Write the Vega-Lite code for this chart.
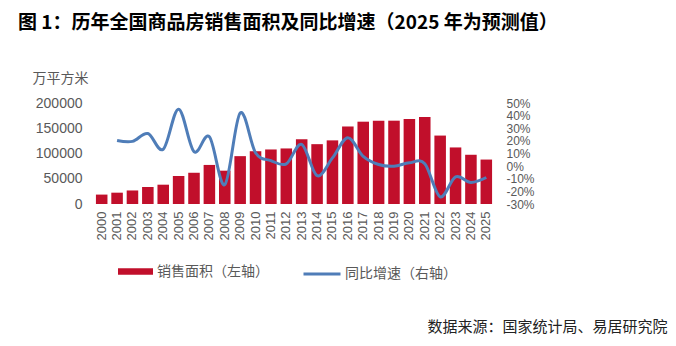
{
  "$schema": "https://vega.github.io/schema/vega-lite/v6.json",
  "width": 400,
  "height": 101,
  "autosize": {"type": "none"},
  "padding": {"left": 94, "top": 103, "right": 182, "bottom": 142},
  "background": "white",
  "config": {
    "view": {"stroke": null},
    "font": "Liberation Sans, Noto Sans CJK SC",
    "legend": {"padding": 0}
  },
  "title": {
    "text": "图 1：历年全国商品房销售面积及同比增速（2025 年为预测值）",
    "anchor": "start",
    "frame": "group",
    "dx": -76,
    "dy": -38,
    "offset": 0,
    "font": "Noto Sans CJK SC",
    "fontSize": 19,
    "fontWeight": "bold",
    "color": "#000000"
  },
  "data": {
    "values": [
      {"year": "2000", "area": 18637, "sArea": "销售面积（左轴）", "sGrowth": "同比增速（右轴）"},
      {"year": "2001", "area": 22412, "growth": 20.3, "sArea": "销售面积（左轴）", "sGrowth": "同比增速（右轴）"},
      {"year": "2002", "area": 26808, "growth": 19.6, "sArea": "销售面积（左轴）", "sGrowth": "同比增速（右轴）"},
      {"year": "2003", "area": 33718, "growth": 25.8, "sArea": "销售面积（左轴）", "sGrowth": "同比增速（右轴）"},
      {"year": "2004", "area": 38232, "growth": 13.4, "sArea": "销售面积（左轴）", "sGrowth": "同比增速（右轴）"},
      {"year": "2005", "area": 55486, "growth": 45.1, "sArea": "销售面积（左轴）", "sGrowth": "同比增速（右轴）"},
      {"year": "2006", "area": 61857, "growth": 11.5, "sArea": "销售面积（左轴）", "sGrowth": "同比增速（右轴）"},
      {"year": "2007", "area": 77355, "growth": 23.2, "sArea": "销售面积（左轴）", "sGrowth": "同比增速（右轴）"},
      {"year": "2008", "area": 65970, "growth": -14.7, "sArea": "销售面积（左轴）", "sGrowth": "同比增速（右轴）"},
      {"year": "2009", "area": 94755, "growth": 42.1, "sArea": "销售面积（左轴）", "sGrowth": "同比增速（右轴）"},
      {"year": "2010", "area": 104500, "growth": 10.6, "sArea": "销售面积（左轴）", "sGrowth": "同比增速（右轴）"},
      {"year": "2011", "area": 108000, "growth": 4.4, "sArea": "销售面积（左轴）", "sGrowth": "同比增速（右轴）"},
      {"year": "2012", "area": 110000, "growth": 1.8, "sArea": "销售面积（左轴）", "sGrowth": "同比增速（右轴）"},
      {"year": "2013", "area": 128000, "growth": 17.3, "sArea": "销售面积（左轴）", "sGrowth": "同比增速（右轴）"},
      {"year": "2014", "area": 118500, "growth": -7.6, "sArea": "销售面积（左轴）", "sGrowth": "同比增速（右轴）"},
      {"year": "2015", "area": 126000, "growth": 6.5, "sArea": "销售面积（左轴）", "sGrowth": "同比增速（右轴）"},
      {"year": "2016", "area": 153500, "growth": 22.5, "sArea": "销售面积（左轴）", "sGrowth": "同比增速（右轴）"},
      {"year": "2017", "area": 163000, "growth": 7.7, "sArea": "销售面积（左轴）", "sGrowth": "同比增速（右轴）"},
      {"year": "2018", "area": 165000, "growth": 1.3, "sArea": "销售面积（左轴）", "sGrowth": "同比增速（右轴）"},
      {"year": "2019", "area": 165000, "growth": -0.1, "sArea": "销售面积（左轴）", "sGrowth": "同比增速（右轴）"},
      {"year": "2020", "area": 168500, "growth": 2.6, "sArea": "销售面积（左轴）", "sGrowth": "同比增速（右轴）"},
      {"year": "2021", "area": 172500, "growth": 1.9, "sArea": "销售面积（左轴）", "sGrowth": "同比增速（右轴）"},
      {"year": "2022", "area": 135500, "growth": -24.3, "sArea": "销售面积（左轴）", "sGrowth": "同比增速（右轴）"},
      {"year": "2023", "area": 112000, "growth": -8.5, "sArea": "销售面积（左轴）", "sGrowth": "同比增速（右轴）"},
      {"year": "2024", "area": 97500, "growth": -12.9, "sArea": "销售面积（左轴）", "sGrowth": "同比增速（右轴）"},
      {"year": "2025", "area": 88000, "growth": -9.0, "sArea": "销售面积（左轴）", "sGrowth": "同比增速（右轴）"}
    ]
  },
  "encoding": {
    "x": {
      "field": "year",
      "type": "ordinal",
      "scale": {"paddingInner": 0.25, "paddingOuter": 0.125},
      "axis": {
        "labelAngle": 270,
        "labelFontSize": 13,
        "labelColor": "#595959",
        "labelPadding": 7,
        "ticks": false,
        "domain": false,
        "title": "数据来源：国家统计局、易居研究院",
        "titleFont": "Noto Sans CJK SC",
        "titleFontSize": 15,
        "titleFontWeight": "normal",
        "titleColor": "#222222",
        "titleAnchor": null,
        "titleAlign": "right",
        "titleBaseline": "middle",
        "titleX": 573,
        "titleY": 122
      }
    }
  },
  "layer": [
    {
      "mark": {"type": "bar"},
      "encoding": {
        "y": {
          "field": "area",
          "type": "quantitative",
          "scale": {"domain": [0, 200000], "nice": false},
          "axis": {
            "values": [0, 50000, 100000, 150000, 200000],
            "format": "d",
            "labelFontSize": 14,
            "labelColor": "#595959",
            "labelPadding": 12,
            "ticks": false,
            "domain": false,
            "grid": false,
            "labelOverlap": false,
            "title": "万平方米",
            "titleFont": "Noto Sans CJK SC",
            "titleFontSize": 14,
            "titleFontWeight": "normal",
            "titleColor": "#595959",
            "titleAngle": 0,
            "titleAlign": "left",
            "titleBaseline": "middle",
            "titleAnchor": null,
            "titleX": -62,
            "titleY": -25
          }
        },
        "fill": {
          "field": "sArea",
          "type": "nominal",
          "scale": {"range": ["#C10F2B"]},
          "legend": {
            "title": null,
            "orient": "none",
            "legendX": 24,
            "legendY": 151,
            "symbolType": "M-1,-0.18H1V0.18H-1Z",
            "symbolSize": 1225,
            "symbolStrokeWidth": 0,
            "labelFont": "Noto Sans CJK SC",
            "labelFontSize": 14,
            "labelColor": "#595959",
            "labelOffset": 4
          }
        }
      }
    },
    {
      "mark": {"type": "line", "interpolate": "cardinal", "tension": 0, "strokeWidth": 3},
      "encoding": {
        "y": {
          "field": "growth",
          "type": "quantitative",
          "scale": {"domain": [-30, 50], "nice": false},
          "axis": {
            "orient": "right",
            "values": [-30, -20, -10, 0, 10, 20, 30, 40, 50],
            "labelExpr": "datum.value + '%'",
            "labelFontSize": 12,
            "labelColor": "#595959",
            "labelPadding": 12,
            "ticks": false,
            "domain": false,
            "grid": false,
            "labelOverlap": false,
            "labelBound": false,
            "title": null
          }
        },
        "stroke": {
          "field": "sGrowth",
          "type": "nominal",
          "scale": {"range": ["#4F7DB8"]},
          "legend": {
            "title": null,
            "orient": "none",
            "legendX": 208,
            "legendY": 151,
            "symbolType": "stroke",
            "symbolSize": 1369,
            "symbolStrokeWidth": 3,
            "labelFont": "Noto Sans CJK SC",
            "labelFontSize": 14,
            "labelColor": "#595959",
            "labelOffset": 3
          }
        }
      }
    }
  ],
  "resolve": {"scale": {"y": "independent"}}
}
